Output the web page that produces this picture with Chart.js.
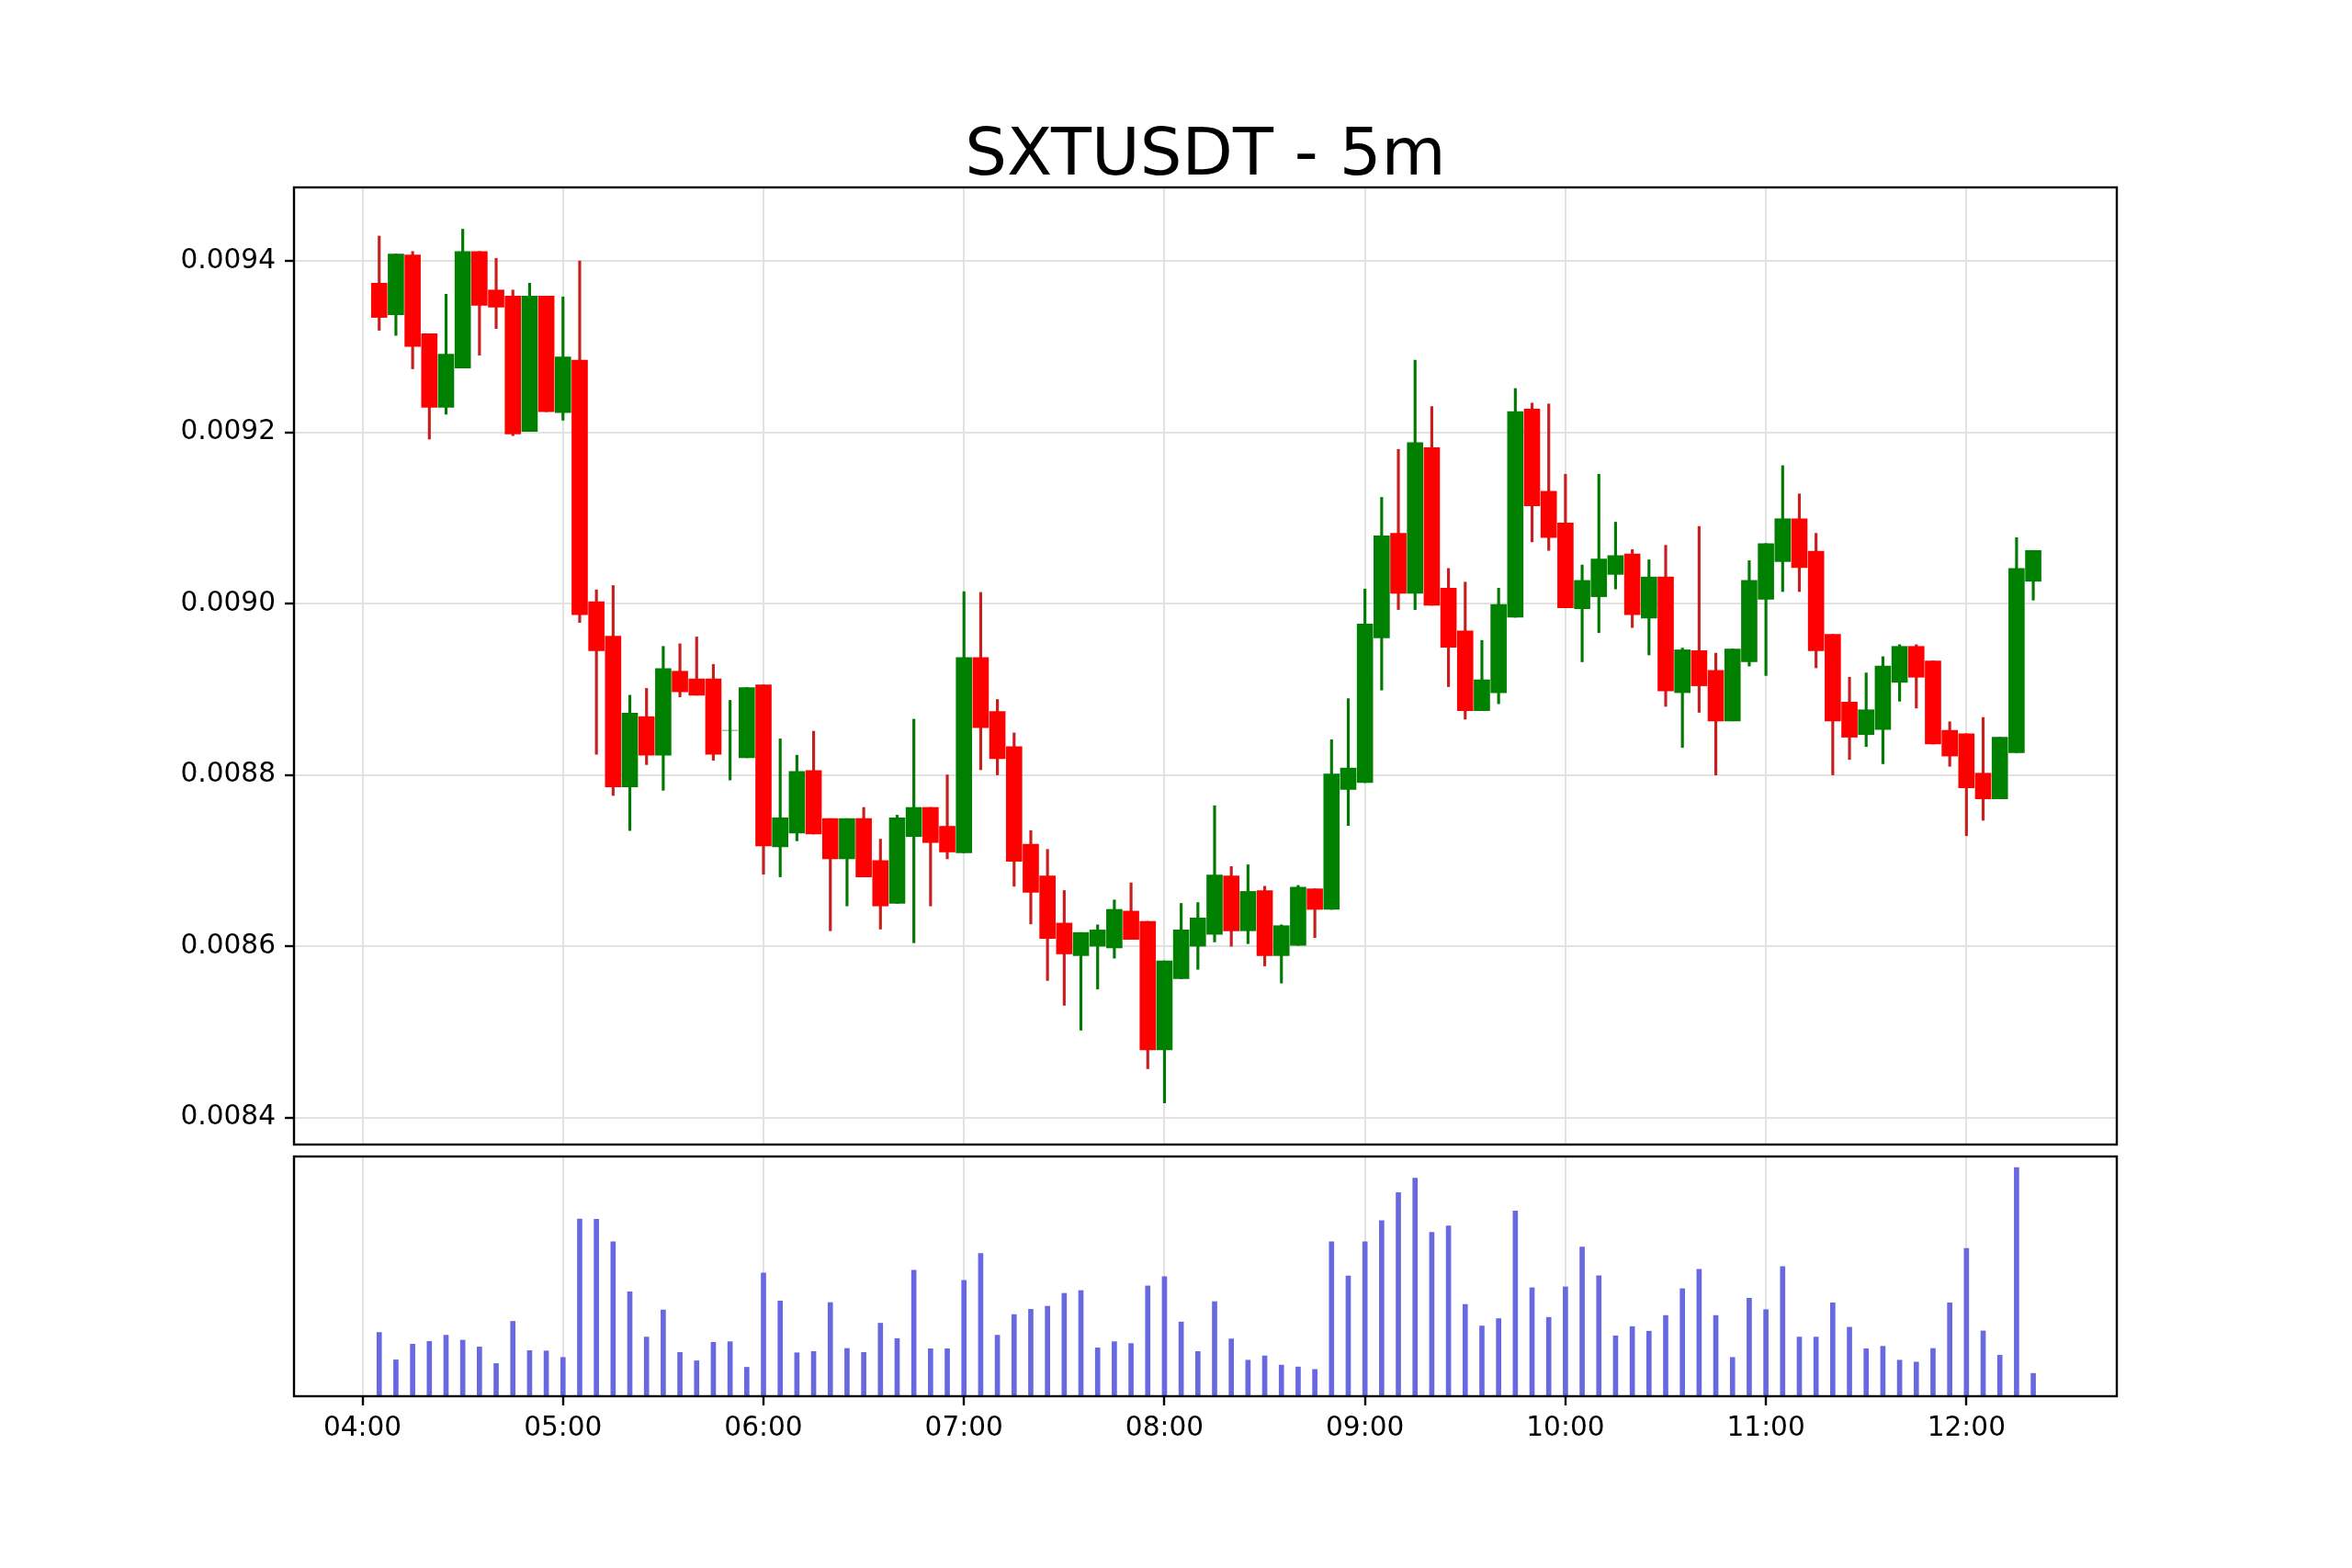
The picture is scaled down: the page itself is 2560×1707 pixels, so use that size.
<!DOCTYPE html>
<html>
<head>
<meta charset="utf-8">
<script src="https://cdn.jsdelivr.net/npm/chart.js@4"></script>
<style>
  html, body { margin: 0; padding: 0; background: #fff; }
  #page { position: relative; width: 2560px; height: 1707px; overflow: hidden; background: #fff; }
  #title { position: absolute; left: 320px; width: 1984px; top: 129px; text-align: center;
           font-family: 'DejaVu Sans'; font-size: 72px; line-height: 72px; color: #000; }
  canvas { position: absolute; left: 0; }
</style>
</head>
<body>
<div id="page">
  <div id="title">SXTUSDT - 5m</div>
  <canvas id="price" width="2560" height="1286" style="top:0;width:2560px;height:1286px"></canvas>
  <canvas id="volume" width="2560" height="507" style="top:1200px;width:2560px;height:507px"></canvas>
</div>
<script>
// 5m candles, 04:05 .. 12:20
const opens = [
  0.009374, 0.009337, 0.009407, 0.009315, 0.009229, 0.009275, 0.009411, 0.009366, 0.009359, 0.009201,
  0.009359, 0.009223, 0.009284, 0.009002, 0.008962, 0.008786, 0.008868, 0.008823, 0.008921, 0.008912,
  0.008912, 0.008852, 0.008820, 0.008905, 0.008716, 0.008732, 0.008805, 0.008749, 0.008702, 0.008749,
  0.008700, 0.008650, 0.008728, 0.008762, 0.008740, 0.008709, 0.008937, 0.008874, 0.008833, 0.008719,
  0.008682, 0.008627, 0.008589, 0.008600, 0.008598, 0.008641, 0.008629, 0.008479, 0.008562, 0.008600,
  0.008614, 0.008682, 0.008618, 0.008665, 0.008589, 0.008601, 0.008667, 0.008643, 0.008783, 0.008791,
  0.008960, 0.009082, 0.009012, 0.009182, 0.009018, 0.008968, 0.008875, 0.008896, 0.008984, 0.009227,
  0.009131, 0.009094, 0.008994, 0.009008, 0.009034, 0.009058, 0.008983, 0.009031, 0.008896, 0.008945,
  0.008922, 0.008863, 0.008932, 0.009005, 0.009049, 0.009099, 0.009061, 0.008964, 0.008885, 0.008847,
  0.008853, 0.008908, 0.008950, 0.008933, 0.008852, 0.008848, 0.008802, 0.008772, 0.008826, 0.009026
];
const highs = [
  0.009429, 0.009408, 0.009411, 0.009315, 0.009361, 0.009437, 0.009411, 0.009403, 0.009366, 0.009374,
  0.009359, 0.009358, 0.009400, 0.009016, 0.009021, 0.008893, 0.008901, 0.008950, 0.008953, 0.008961,
  0.008929, 0.008887, 0.008902, 0.008905, 0.008842, 0.008823, 0.008851, 0.008749, 0.008749, 0.008762,
  0.008725, 0.008753, 0.008865, 0.008762, 0.008800, 0.009014, 0.009013, 0.008888, 0.008849, 0.008735,
  0.008713, 0.008665, 0.008616, 0.008625, 0.008654, 0.008674, 0.008629, 0.008583, 0.008650, 0.008651,
  0.008764, 0.008693, 0.008695, 0.008670, 0.008625, 0.008671, 0.008667, 0.008841, 0.008889, 0.009017,
  0.009124, 0.009180, 0.009284, 0.009230, 0.009041, 0.009025, 0.008957, 0.009018, 0.009251, 0.009234,
  0.009233, 0.009151, 0.009045, 0.009151, 0.009095, 0.009063, 0.009051, 0.009068, 0.008948, 0.009090,
  0.008942, 0.008947, 0.009050, 0.009070, 0.009161, 0.009128, 0.009082, 0.008964, 0.008914, 0.008919,
  0.008938, 0.008952, 0.008952, 0.008933, 0.008862, 0.008848, 0.008867, 0.008844, 0.009077, 0.009062
];
const lows = [
  0.009319, 0.009313, 0.009274, 0.009192, 0.009221, 0.009275, 0.009290, 0.009321, 0.009196, 0.009201,
  0.009224, 0.009214, 0.008978, 0.008824, 0.008776, 0.008735, 0.008812, 0.008782, 0.008891, 0.008893,
  0.008817, 0.008794, 0.008820, 0.008684, 0.008681, 0.008723, 0.008731, 0.008618, 0.008647, 0.008681,
  0.008620, 0.008650, 0.008604, 0.008647, 0.008702, 0.008709, 0.008806, 0.008800, 0.008670, 0.008626,
  0.008560, 0.008531, 0.008502, 0.008550, 0.008586, 0.008608, 0.008457, 0.008417, 0.008562, 0.008573,
  0.008605, 0.008600, 0.008603, 0.008577, 0.008557, 0.008601, 0.008610, 0.008643, 0.008741, 0.008791,
  0.008899, 0.008993, 0.008993, 0.008998, 0.008903, 0.008865, 0.008875, 0.008883, 0.008984, 0.009072,
  0.009062, 0.008995, 0.008932, 0.008966, 0.009017, 0.008972, 0.008940, 0.008880, 0.008832, 0.008873,
  0.008800, 0.008863, 0.008927, 0.008916, 0.009014, 0.009014, 0.008925, 0.008800, 0.008818, 0.008833,
  0.008813, 0.008886, 0.008878, 0.008836, 0.008810, 0.008729, 0.008747, 0.008772, 0.008826, 0.009004
];
const closes = [
  0.009334, 0.009408, 0.009300, 0.009229, 0.009291, 0.009411, 0.009348, 0.009346, 0.009198, 0.009359,
  0.009224, 0.009288, 0.008987, 0.008945, 0.008786, 0.008872, 0.008823, 0.008924, 0.008897, 0.008893,
  0.008824, 0.008852, 0.008902, 0.008717, 0.008750, 0.008804, 0.008731, 0.008702, 0.008749, 0.008681,
  0.008647, 0.008750, 0.008762, 0.008721, 0.008710, 0.008937, 0.008855, 0.008819, 0.008699, 0.008663,
  0.008609, 0.008591, 0.008616, 0.008619, 0.008643, 0.008608, 0.008479, 0.008583, 0.008619, 0.008633,
  0.008683, 0.008618, 0.008664, 0.008589, 0.008624, 0.008669, 0.008643, 0.008801, 0.008808, 0.008976,
  0.009079, 0.009012, 0.009188, 0.008998, 0.008949, 0.008875, 0.008911, 0.008999, 0.009224, 0.009114,
  0.009077, 0.008995, 0.009027, 0.009052, 0.009056, 0.008987, 0.009031, 0.008898, 0.008946, 0.008904,
  0.008863, 0.008947, 0.009027, 0.009070, 0.009099, 0.009042, 0.008945, 0.008863, 0.008844, 0.008876,
  0.008927, 0.008950, 0.008914, 0.008836, 0.008822, 0.008785, 0.008772, 0.008844, 0.009041, 0.009062
];
// volume, relative units (no scale shown on the panel)
const volumes = [
  207, 118, 169, 178, 198, 182, 160, 106, 243, 148,
  147, 126, 575, 574, 501, 339, 192, 280, 142, 115,
  175, 177, 94, 400, 309, 141, 145, 304, 155, 142,
  237, 187, 409, 154, 154, 376, 463, 198, 265, 282,
  292, 334, 343, 157, 177, 171, 358, 388, 241, 145,
  307, 186, 117, 131, 101, 95, 87, 501, 390, 501,
  570, 661, 708, 532, 553, 298, 228, 252, 601, 352,
  256, 355, 484, 391, 196, 226, 211, 262, 349, 412,
  262, 126, 318, 281, 421, 192, 192, 303, 224, 154,
  162, 117, 111, 155, 303, 480, 212, 133, 742, 74
];
const hourLabels = ['04:00', '05:00', '06:00', '07:00', '08:00', '09:00', '10:00', '11:00', '12:00'];
const priceTicks = [0.0084, 0.0086, 0.0088, 0.0090, 0.0092, 0.0094];

// minutes after 04:00 for each candle (first one is 04:05)
const times = [];
for (let i = 0; i < opens.length; i++) times.push(5 + i * 5);
const hourMinutes = hourLabels.map(h => (parseInt(h) - 4) * 60);

const up = opens.map((o, i) => closes[i] >= o);
const bodyColors = up.map(u => u ? '#008000' : '#ff0000');
const wickColors = up.map(u => u ? '#007a00' : '#c81e1e');

Chart.defaults.font.family = 'DejaVu Sans';
Chart.defaults.font.size = 29.6;
Chart.defaults.color = '#000';

const X_MIN = -20.5, X_MAX = 525;
const gridColor = '#e2e2e2';

const frame = {
  id: 'frame',
  afterDraw(chart) {
    const a = chart.chartArea, c = chart.ctx;
    c.save();
    c.strokeStyle = '#000';
    c.lineWidth = 2.4;
    c.strokeRect(a.left, a.top, a.right - a.left, a.bottom - a.top);
    c.restore();
  }
};

new Chart(document.getElementById('price'), {
  type: 'bar',
  data: {
    datasets: [
      {
        label: 'wick',
        data: times.map((t, i) => ({ x: t, y: [lows[i], highs[i]] })),
        backgroundColor: wickColors,
        barThickness: 2.5,
        order: 2
      },
      {
        label: 'body',
        data: times.map((t, i) => ({ x: t, y: [opens[i], closes[i]] })),
        backgroundColor: bodyColors,
        barThickness: 17,
        order: 1
      }
    ]
  },
  options: {
    responsive: false,
    animation: false,
    devicePixelRatio: 1,
    layout: { padding: { left: 0, right: 256, top: 204, bottom: 0 } },
    plugins: { legend: { display: false }, tooltip: { enabled: false } },
    datasets: { bar: { grouped: false, borderWidth: 0 } },
    scales: {
      x: {
        type: 'linear', min: X_MIN, max: X_MAX, offset: false,
        afterBuildTicks: s => { s.ticks = hourMinutes.map(v => ({ value: v })); },
        ticks: { display: false },
        grid: { color: gridColor, lineWidth: 2, drawTicks: false, offset: false },
        border: { display: false },
        afterFit: s => { s.height = 40; }
      },
      y: {
        min: 0.0083685, max: 0.0094858,
        afterBuildTicks: s => { s.ticks = priceTicks.map(v => ({ value: v })); },
        ticks: { callback: v => v.toFixed(4), padding: 10 },
        grid: { color: gridColor, lineWidth: 2, tickColor: '#000', tickLength: 10, tickWidth: 2.4 },
        border: { display: false },
        afterFit: s => { s.width = 320; }
      }
    }
  },
  plugins: [frame]
});

new Chart(document.getElementById('volume'), {
  type: 'bar',
  data: {
    datasets: [{
      label: 'volume',
      data: times.map((t, i) => ({ x: t, y: volumes[i] })),
      backgroundColor: '#6868e0',
      barThickness: 5
    }]
  },
  options: {
    responsive: false,
    animation: false,
    devicePixelRatio: 1,
    layout: { padding: { left: 320, right: 256, top: 59, bottom: 0 } },
    plugins: { legend: { display: false }, tooltip: { enabled: false } },
    datasets: { bar: { grouped: false, borderWidth: 0 } },
    scales: {
      x: {
        type: 'linear', min: X_MIN, max: X_MAX, offset: false,
        afterBuildTicks: s => { s.ticks = hourMinutes.map(v => ({ value: v })); },
        ticks: {
          callback: v => hourLabels[hourMinutes.indexOf(v)],
          autoSkip: false, maxRotation: 0, padding: 8
        },
        grid: { color: gridColor, lineWidth: 2, tickColor: '#000', tickLength: 10, tickWidth: 2.4, offset: false },
        border: { display: false },
        afterFit: s => { s.height = 187; }
      },
      y: { display: false, min: 0, max: 778 }
    }
  },
  plugins: [frame]
});
</script>
</body>
</html>
